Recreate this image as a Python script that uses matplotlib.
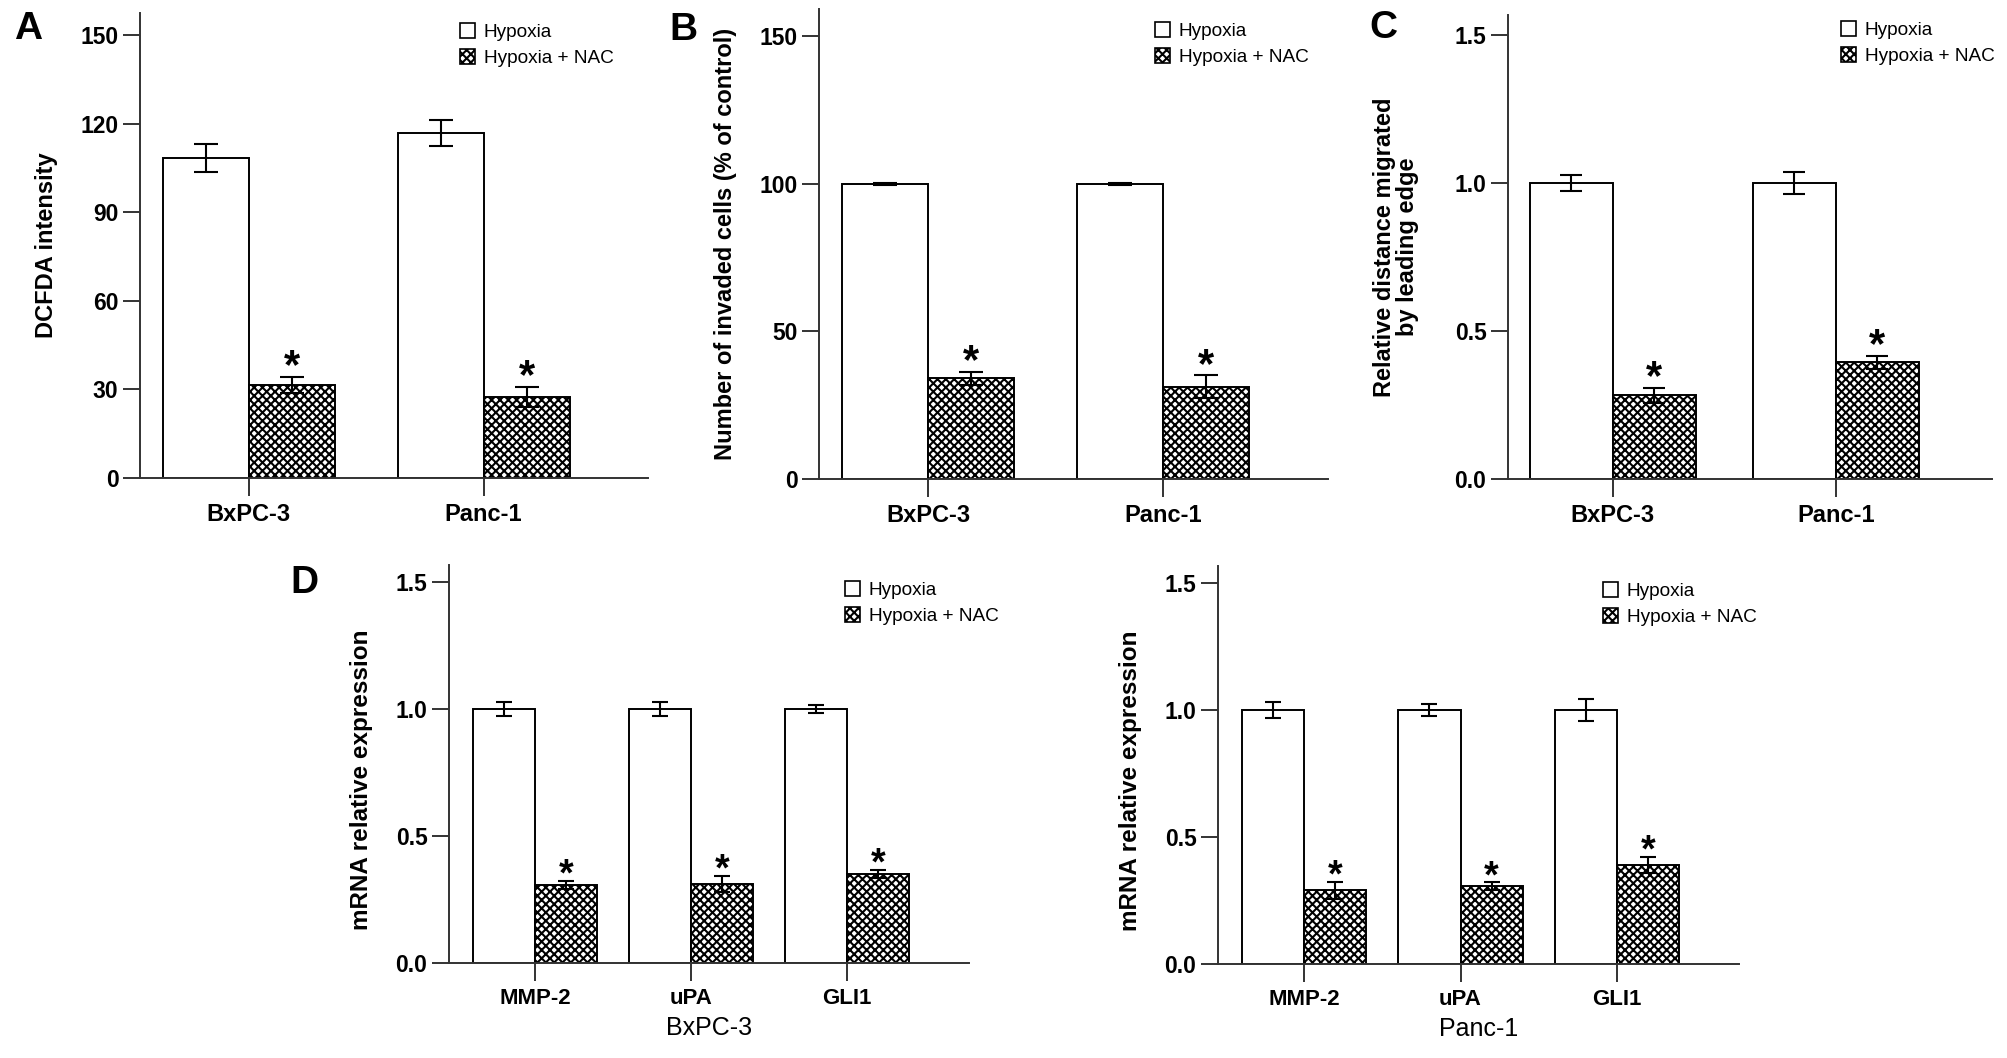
import matplotlib
matplotlib.use("Agg")
import matplotlib.pyplot as plt
from matplotlib.patches import Patch
import numpy as np

plt.rcParams["font.family"] = ["Liberation Sans", "DejaVu Sans"]
plt.rcParams["hatch.linewidth"] = 1.5

W, H = 2008, 1058

# A: DCFDA intensity
cells = ["BxPC-3", "Panc-1"]
dcfda_hyp = [108.5, 117.0]
dcfda_hyp_err = [4.7, 4.4]
dcfda_nac = [31.5, 27.4]
dcfda_nac_err = [2.7, 3.4]

# B: invasion
invaded_hyp = [100.0, 100.0]
invaded_hyp_err = [0.3, 0.3]
invaded_nac = [34.2, 31.2]
invaded_nac_err = [2.2, 3.9]

# C: migration
migrated_hyp = [1.0, 1.0]
migrated_hyp_err = [0.026, 0.038]
migrated_nac = [0.283, 0.394]
migrated_nac_err = [0.026, 0.022]

# D: mRNA
genes = ["MMP-2", "uPA", "GLI1"]
bxpc_hyp = [1.0, 1.0, 1.0]
bxpc_hyp_err = [0.028, 0.028, 0.016]
bxpc_nac = [0.307, 0.311, 0.351]
bxpc_nac_err = [0.016, 0.032, 0.017]
panc_hyp = [1.0, 1.0, 1.0]
panc_hyp_err = [0.030, 0.022, 0.044]
panc_nac = [0.290, 0.307, 0.391]
panc_nac_err = [0.034, 0.014, 0.031]

LEGEND_LABELS = ["Hypoxia", "Hypoxia + NAC"]
HATCH = "xxxx"
AXIS_COLOR = "#333333"

fig = plt.figure(figsize=(W / 100, H / 100), dpi=100)


def add_axes_px(left, right, top, bottom):
    return fig.add_axes([left / W, 1 - bottom / H, (right - left) / W, (bottom - top) / H])


def draw_panel(ax, cats, hyp, hyp_err, nac, nac_err, width, xlim, ylim, yticks,
               fmt, capsize, star_size, star_dy, xtick_size, legend_xy):
    x = np.arange(len(cats))
    ax.bar(x - width / 2, hyp, width, color="white", edgecolor="black", linewidth=1.4, zorder=2)
    ax.bar(x + width / 2, nac, width, color="white", edgecolor="black", hatch=HATCH,
           linewidth=1.4, zorder=2)
    ax.errorbar(x - width / 2, hyp, yerr=hyp_err, fmt="none", ecolor="black",
                elinewidth=1.5, capsize=capsize, capthick=1.5, zorder=3)
    ax.errorbar(x + width / 2, nac, yerr=nac_err, fmt="none", ecolor="black",
                elinewidth=1.5, capsize=capsize, capthick=1.5, zorder=3)
    for i in range(len(cats)):
        ax.annotate("*", (x[i] + width / 2, nac[i] + nac_err[i]), xytext=(0, star_dy),
                    textcoords="offset points", ha="center", va="baseline",
                    fontsize=star_size, fontweight="bold")

    ax.set_xlim(*xlim)
    ax.set_ylim(*ylim)
    ax.set_yticks(yticks)
    ax.set_yticklabels([fmt.format(t) for t in yticks], fontsize=16.5, fontweight="bold")
    ax.set_xticks(x)
    ax.set_xticklabels(cats, fontsize=xtick_size, fontweight="bold")
    ax.tick_params(axis="y", direction="out", length=12.5, width=1.4, pad=3, color=AXIS_COLOR)
    ax.tick_params(axis="x", direction="out", length=13, width=1.4, pad=5, color=AXIS_COLOR)
    for side in ["top", "right"]:
        ax.spines[side].set_visible(False)
    for side in ["left", "bottom"]:
        ax.spines[side].set_color(AXIS_COLOR)
        ax.spines[side].set_linewidth(1.4)

    handles = [
        Patch(facecolor="white", edgecolor="black", linewidth=1.2, label=LEGEND_LABELS[0]),
        Patch(facecolor="white", edgecolor="black", linewidth=1.2, hatch=HATCH,
              label=LEGEND_LABELS[1]),
    ]
    ax.legend(handles=handles, loc="upper left",
              bbox_to_anchor=(legend_xy[0] / W, 1 - legend_xy[1] / H),
              bbox_transform=fig.transFigure, frameon=False, fontsize=13.7,
              handlelength=0.8, handleheight=0.8, handletextpad=0.45,
              labelspacing=0.45, borderpad=0, borderaxespad=0)


ax_a = add_axes_px(140, 648, 13, 478)
draw_panel(ax_a, cells, dcfda_hyp, dcfda_hyp_err, dcfda_nac, dcfda_nac_err,
           0.366, (-0.464, 1.70), (0, 157.5), [0, 30, 60, 90, 120, 150], "{:.0f}",
           8.3, 30, -1, 17, (460, 23))
ax_a.set_ylabel("DCFDA intensity", fontsize=17, fontweight="bold")
ax_a.yaxis.set_label_coords((58 - 140) / 508, 0.5)

ax_b = add_axes_px(819, 1328, 9, 479)
draw_panel(ax_b, cells, invaded_hyp, invaded_hyp_err, invaded_nac, invaded_nac_err,
           0.366, (-0.464, 1.70), (0, 159.3), [0, 50, 100, 150], "{:.0f}",
           8.3, 30, -1, 17, (1155, 22))
ax_b.set_ylabel("Number of invaded cells (% of control)", fontsize=17, fontweight="bold")
ax_b.yaxis.set_label_coords((737 - 819) / 509, 0.5)

ax_c = add_axes_px(1508, 1992, 15, 479)
draw_panel(ax_c, cells, migrated_hyp, migrated_hyp_err, migrated_nac, migrated_nac_err,
           0.372, (-0.47, 1.70), (0, 1.568), [0.0, 0.5, 1.0, 1.5], "{:.1f}",
           8.0, 30, -1, 17, (1841, 21))
ax_c.set_ylabel("Relative distance migrated\nby leading edge", fontsize=17,
                fontweight="bold", linespacing=1.0)
ax_c.yaxis.set_label_coords((1419 - 1508) / 484, 0.5)

ax_d1 = add_axes_px(449, 969, 565, 963)
draw_panel(ax_d1, genes, bxpc_hyp, bxpc_hyp_err, bxpc_nac, bxpc_nac_err,
           0.397, (-0.55, 2.78), (0, 1.567), [0.0, 0.5, 1.0, 1.5], "{:.1f}",
           5.5, 27, -3.5, 16, (845, 581))
ax_d1.set_ylabel("mRNA relative expression", fontsize=17.5, fontweight="bold")
ax_d1.yaxis.set_label_coords((373 - 449) / 520, 0.46)
ax_d1.set_xlabel("BxPC-3", fontsize=18, fontweight="normal", labelpad=5)

ax_d2 = add_axes_px(1218, 1739, 566, 964)
draw_panel(ax_d2, genes, panc_hyp, panc_hyp_err, panc_nac, panc_nac_err,
           0.397, (-0.55, 2.78), (0, 1.567), [0.0, 0.5, 1.0, 1.5], "{:.1f}",
           5.5, 27, -3.5, 16, (1603, 582))
ax_d2.set_ylabel("mRNA relative expression", fontsize=17.5, fontweight="bold")
ax_d2.yaxis.set_label_coords((1142 - 1218) / 521, 0.46)
ax_d2.set_xlabel("Panc-1", fontsize=18, fontweight="normal", labelpad=5)

for letter, (px, py) in zip("ABCD", [(28, 29), (683, 30), (1383, 28), (304, 583)]):
    fig.text(px / W, 1 - py / H, letter, fontsize=28, fontweight="bold",
             ha="center", va="center")

fig.savefig("out.png", dpi=100, facecolor="white")
